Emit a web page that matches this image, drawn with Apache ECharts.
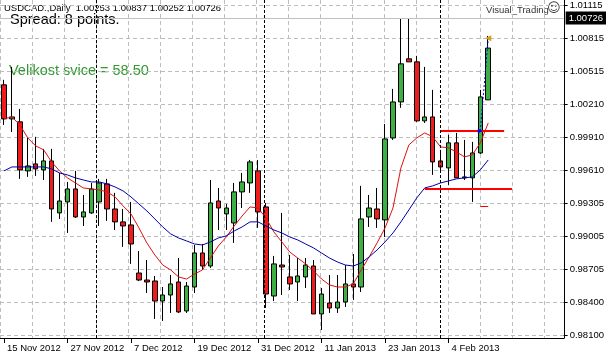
<!DOCTYPE html>
<html><head><meta charset="utf-8">
<script src="https://cdn.jsdelivr.net/npm/echarts@6/dist/echarts.min.js"></script>
<style>html,body{margin:0;padding:0;background:#fff}#c{width:607px;height:355px}</style>
</head><body><div id="c"></div><script>
const dates = ["15 Nov 2012","16 Nov 2012","19 Nov 2012","20 Nov 2012","21 Nov 2012","22 Nov 2012","23 Nov 2012","26 Nov 2012",
"27 Nov 2012","28 Nov 2012","29 Nov 2012","30 Nov 2012","3 Dec 2012","4 Dec 2012","5 Dec 2012","6 Dec 2012",
"7 Dec 2012","10 Dec 2012","11 Dec 2012","12 Dec 2012","13 Dec 2012","14 Dec 2012","17 Dec 2012","18 Dec 2012",
"19 Dec 2012","20 Dec 2012","21 Dec 2012","24 Dec 2012","25 Dec 2012","26 Dec 2012","27 Dec 2012","28 Dec 2012",
"31 Dec 2012","2 Jan 2013","3 Jan 2013","4 Jan 2013","7 Jan 2013","8 Jan 2013","9 Jan 2013","10 Jan 2013",
"11 Jan 2013","14 Jan 2013","15 Jan 2013","16 Jan 2013","17 Jan 2013","18 Jan 2013","21 Jan 2013","22 Jan 2013",
"23 Jan 2013","24 Jan 2013","25 Jan 2013","28 Jan 2013","29 Jan 2013","30 Jan 2013","31 Jan 2013","1 Feb 2013",
"4 Feb 2013","5 Feb 2013","6 Feb 2013","7 Feb 2013","8 Feb 2013","11 Feb 2013"];

const open = [1.00390,1.00079,1.00052,0.99604,0.99668,0.99613,0.99695,0.99220,0.99320,0.99439,
0.99183,0.99220,0.99320,0.99485,0.99256,0.99138,0.99110,0.98671,0.98607,0.98598,
0.98415,0.98470,0.98589,0.98324,0.98543,0.98854,0.98735,0.99329,0.99211,0.99128,
0.99412,0.99494,0.99604,0.99275,0.98461,0.98744,0.98635,0.98589,0.98635,0.98735,
0.98297,0.98397,0.98351,0.98406,0.98571,0.98543,0.99183,0.99256,0.99156,0.99905,
1.00234,1.00628,1.00600,1.00061,1.00097,0.99695,0.99631,0.99860,0.99540,0.99540,
0.99768,1.00253];
const close = [1.00079,1.00097,0.99613,0.99649,0.99622,0.99695,0.99256,0.99329,0.99439,0.99183,
0.99229,0.99439,0.99494,0.99256,0.99138,0.99101,0.98936,0.98607,0.98589,0.98415,
0.98470,0.98571,0.98315,0.98552,0.98854,0.98735,0.99311,0.99265,0.99265,0.99412,
0.99503,0.99686,0.99229,0.98479,0.98754,0.98726,0.98571,0.98644,0.98744,0.98297,
0.98479,0.98351,0.98406,0.98571,0.98543,0.99165,0.99265,0.99165,0.99896,1.00234,
1.00582,1.00600,1.00061,1.00097,0.99686,0.99640,0.99860,0.99540,0.99549,0.99768,
1.00280,1.00726];
const low = [1.00024,0.99960,0.99531,0.99549,0.99558,0.99521,0.99138,0.99165,0.99037,0.99174,
0.99101,0.99211,0.99101,0.99147,0.99064,0.98909,0.98754,0.98598,0.98488,0.98251,
0.98233,0.98306,0.98306,0.98306,0.98488,0.98699,0.98717,0.99064,0.99064,0.98946,
0.99265,0.99403,0.99083,0.98351,0.98415,0.98470,0.98516,0.98415,0.98534,0.98297,
0.98150,0.98306,0.98306,0.98361,0.98425,0.98498,0.99092,0.99083,0.99000,0.99887,
1.00180,1.00600,1.00052,1.00042,0.99567,0.99585,0.99476,0.99540,0.99521,0.99320,
0.99759,1.00252];
const high = [1.00436,1.00554,1.00170,0.99905,0.99915,0.99805,0.99805,0.99585,0.99503,0.99604,
0.99384,0.99494,0.99531,0.99531,0.99403,0.99256,0.99320,0.98872,0.98790,0.98644,
0.98543,0.98653,0.98808,0.98589,0.98927,0.98936,0.99521,0.99448,0.99302,0.99494,
0.99585,0.99704,0.99704,0.99311,0.98827,0.99220,0.98836,0.98808,0.98808,0.98790,
0.98534,0.98653,0.98653,0.98744,0.98845,0.99467,0.99384,0.99448,1.00033,1.00353,
1.00993,1.00993,1.00655,1.00554,1.00344,0.99796,0.99933,0.99951,0.99887,0.99869,
1.00344,1.00837];
const maFast = [1.00079,1.00097,1.00024,0.99905,0.99832,0.99796,0.99686,0.99604,0.99540,0.99494,
0.99448,0.99439,0.99430,0.99412,0.99366,0.99284,0.99211,0.99083,0.98946,0.98836,
0.98744,0.98699,0.98635,0.98616,0.98662,0.98699,0.98808,0.98918,0.99000,0.99101,
0.99192,0.99275,0.99265,0.99174,0.99046,0.98955,0.98863,0.98808,0.98754,0.98690,
0.98616,0.98562,0.98543,0.98543,0.98571,0.98699,0.98818,0.98946,0.99083,0.99265,
0.99631,0.99841,0.99905,0.99951,0.99915,0.99823,0.99814,0.99777,0.99732,0.99750,
0.99860,1.00042];
const maSlow = [0.99604,0.99640,0.99640,0.99640,0.99640,0.99640,0.99622,0.99585,0.99567,0.99540,
0.99521,0.99503,0.99503,0.99485,0.99457,0.99421,0.99366,0.99302,0.99238,0.99165,
0.99092,0.99028,0.98991,0.98964,0.98936,0.98927,0.98955,0.98991,0.99010,0.99055,
0.99092,0.99138,0.99138,0.99101,0.99064,0.99037,0.99000,0.98973,0.98936,0.98900,
0.98854,0.98808,0.98772,0.98744,0.98735,0.98763,0.98818,0.98882,0.98955,0.99037,
0.99138,0.99247,0.99357,0.99448,0.99467,0.99494,0.99512,0.99531,0.99540,0.99549,
0.99613,0.99704];
const yTickLabels = ["0.98100","0.98400","0.98705","0.99005","0.99305","0.99610","0.99910","1.00210","1.00515","1.00815","1.01115"];
const yMin = 0.98100, yMax = 1.01115, yStep = 0.003015;
const separators = [12, 33, 55];
const levelLines = [
  {from:[55, 0.99969], to:[63, 0.99969], color:'#ff0000', width:2, type:'solid'},
  {from:[53, 0.99439], to:[64, 0.99439], color:'#ff0000', width:2, type:'solid'},
  {from:[59.6, 0.99284], to:[60.5, 0.99284], color:'#ff0000', width:1, type:'solid'},
  {from:[59.6, 1.00815], to:[60.4, 1.00815], color:'#0000ff', width:1, type:'solid'},
  {from:[59.8, 0.99969], to:[61, 1.00815], color:'#0000ff', width:1, type:[2,2]}
];
const symbolName = 'USDCAD.,Daily';
const spreadText = 'Spread: 8 points.';
const candleText = 'Velikost svice = 58.50';
const brandText = 'Visual_Trading';
const brandIcon = '\u263A';

const N = 71;
const cats = [];
for (let i = 0; i < N; i++) cats.push(i < dates.length ? dates[i] : ('_' + i));
const showIdx = (i) => i % 8 === 0 && i < dates.length;
const candles = open.map((o, i) => [o, close[i], low[i], high[i]]);
const last = open.length - 1;
const font = 'Liberation Sans, Arial, sans-serif';

const chart = echarts.init(document.getElementById('c'));
chart.setOption({
  animation: false,
  backgroundColor: '#ffffff',
  grid: [
    {left: -4, top: 5.5, width: 568, height: 330},
    {left: 0, top: 0, width: 564, height: 338}
  ],
  xAxis: [
    {type: 'category', gridIndex: 0, data: cats, boundaryGap: true, offset: 2.5,
     axisLine: {show: false},
     axisTick: {show: true, alignWithLabel: true, interval: (i) => showIdx(i), length: 5, lineStyle: {color: '#000'}},
     axisLabel: {interval: (i) => showIdx(i), align: 'left', padding: [0,0,0,3], margin: 5,
                 color: '#000', fontSize: 9.5, fontFamily: font},
     splitLine: {show: false}},
    {type: 'value', gridIndex: 1, min: 0, max: 70.5, interval: 4,
     axisLine: {show: true, onZero: false, lineStyle: {color: '#000', width: 1}},
     axisTick: {show: false}, axisLabel: {show: false},
     splitLine: {show: true, lineStyle: {color: '#bdbdbd', type: [4,3], width: 1}}}
  ],
  yAxis: [
    {type: 'value', gridIndex: 0, position: 'right', min: yMin, max: yMax, interval: yStep,
     axisLine: {show: false},
     axisTick: {show: true, length: 4, lineStyle: {color: '#000'}},
     axisLabel: {margin: 6, color: '#000', fontSize: 9.5, fontFamily: font,
                 formatter: (v) => { const k = Math.round((v - yMin) / yStep); return yTickLabels[k] || ''; }},
     splitLine: {show: true, lineStyle: {color: '#bdbdbd', type: [4,3], width: 1}}},
    {type: 'value', gridIndex: 1, position: 'right', min: 0, max: 1,
     axisLine: {show: true, onZero: false, lineStyle: {color: '#000', width: 1}},
     axisTick: {show: false}, axisLabel: {show: false}, splitLine: {show: false}}
  ],
  series: [
    {type: 'candlestick', xAxisIndex: 0, yAxisIndex: 0, data: candles, barWidth: 5,
     itemStyle: {color: '#3cb043', color0: '#ee1c1c', borderColor: '#000', borderColor0: '#000', borderWidth: 1},
     markLine: {silent: true, symbol: 'none', animation: false,
       label: {show: false},
       data: [
         {yAxis: close[last], lineStyle: {color: '#c0c0c0', type: 'solid', width: 1},
          label: {show: true, position: 'end', distance: 2, formatter: close[last].toFixed(5),
                  backgroundColor: '#000', color: '#fff', padding: [2,3,1,3], fontSize: 9.5, fontFamily: font}}
       ].concat(levelLines.map(l => [
         {coord: l.from, lineStyle: {color: l.color, width: l.width, type: l.type}},
         {coord: l.to}
       ]))
     },
     markPoint: {silent: true, animation: false, label: {show: false},
       data: [
         {coord: [61.3, 1.00815], symbol: 'triangle', symbolRotate: 90, symbolSize: [6,6], itemStyle: {color: '#d4a017'}},
         {coord: [59.8, 0.99969], symbol: 'triangle', symbolRotate: -90, symbolSize: [5,5], itemStyle: {color: '#0000ff'}}
       ]}
    },
    {type: 'line', xAxisIndex: 0, yAxisIndex: 0, data: maFast, symbol: 'none', z: 3,
     lineStyle: {color: '#dd1111', width: 1}},
    {type: 'line', xAxisIndex: 0, yAxisIndex: 0, data: maSlow, symbol: 'none', z: 3,
     lineStyle: {color: '#0000aa', width: 1}},
    {type: 'line', xAxisIndex: 1, yAxisIndex: 1, data: [], symbol: 'none',
     markLine: {silent: true, symbol: 'none', animation: false, label: {show: false},
       lineStyle: {color: '#000', type: [3,2], width: 1},
       data: separators.map(v => ({xAxis: v}))}}
  ],
  graphic: [
    {type: 'text', left: 4, top: 3, silent: true,
     style: {text: symbolName + '  ' + [open[last], high[last], low[last], close[last]].map(v => v.toFixed(5)).join(' '),
             font: '9.5px ' + font, fill: '#000'}},
    {type: 'text', left: 10, top: 12, silent: true,
     style: {text: spreadText, font: '14.5px ' + font, fill: '#000'}},
    {type: 'text', left: 9, top: 63, silent: true,
     style: {text: candleText, font: '14.5px ' + font, fill: '#2f9a2f'}},
    {type: 'text', left: 486, top: 5, silent: true,
     style: {text: brandText, font: '9.5px ' + font, fill: '#333'}},
    {type: 'text', left: 547, top: 2, silent: true,
     style: {text: brandIcon, font: '13px DejaVu Sans, sans-serif', fill: '#333'}}
  ]
});
</script></body></html>
